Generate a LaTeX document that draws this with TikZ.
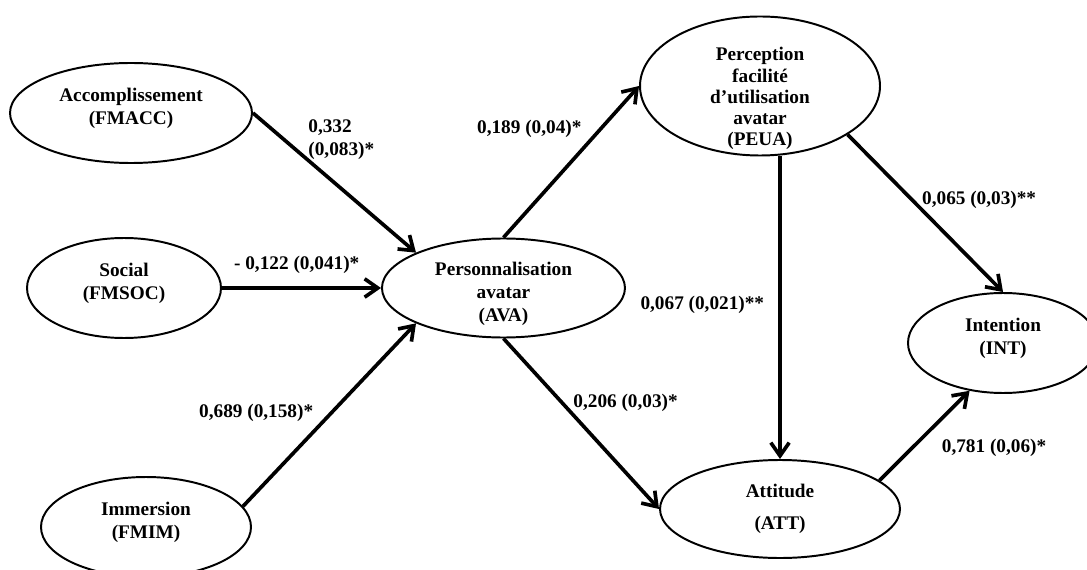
\documentclass[tikz,border=0pt]{standalone}
\usepackage{fontspec}
\setmainfont{Liberation Serif}
\usetikzlibrary{arrows.meta,positioning,shapes.geometric}

\begin{document}
\begin{tikzpicture}[
  latent/.style={draw,ellipse,line width=1.4pt,inner sep=0pt},
  lbl/.style={align=center,font=\fontsize{13.7}{16.3}\selectfont\bfseries},
  coef/.style={font=\fontsize{13.7}{16.3}\selectfont\bfseries,inner sep=3pt},
  arr/.style={-{Straight Barb[length=3.3mm,width=4.6mm]},line width=2.6pt}
]
\useasboundingbox (0,0) rectangle (27.175,14.225);
\node[latent,minimum width=6.05cm,minimum height=2.5cm,
  label={[lbl,name=FMACCtxt,yshift=1.25mm]center:Accomplissement\\(FMACC)}] (FMACC) at (3.275,11.4) {};
\node[latent,minimum width=4.85cm,minimum height=2.5cm,
  label={[lbl,name=FMSOCtxt,yshift=1.25mm]center:Social\\(FMSOC)}] (FMSOC) at (3.1,7.025) {};
\node[latent,minimum width=5.25cm,minimum height=2.5cm,
  label={[lbl,name=FMIMtxt,yshift=1.1mm]center:Immersion\\(FMIM)}] (FMIM) at (3.65,1.05) {};
\node[latent,minimum width=6.075cm,minimum height=2.475cm,right=3.975cm of FMSOC,
  label={[lbl,name=AVAtxt,yshift=-1.4mm]center:Personnalisation\\avatar\\(AVA)}] (AVA) {};
\node[latent,minimum width=6cm,minimum height=3.475cm,
  label={[lbl,name=PEUAtxt,yshift=-0.32cm,font=\fontsize{13.7}{15.1}\selectfont\bfseries]center:Perception\\facilité\\d’utilisation\\avatar\\(PEUA)}] (PEUA) at (19.0,12.075) {};
\node[latent,minimum width=4.75cm,minimum height=2.5cm,
  label={[lbl,name=INTtxt,yshift=1.25mm]center:Intention\\(INT)}] (INT) at (25.075,5.65) {};
\node[latent,minimum width=6cm,minimum height=2.45cm,
  label={[lbl,name=ATTtxt]center:Attitude\\[6pt](ATT)}] (ATT) at (19.5,1.5) {};
\draw[arr] (FMACC.east) -- node[coef,pos=0.19,right=0.46cm,align=left]{0,332\\(0,083)*} (AVA.158);
\draw[arr] (FMSOC.east) -- node[coef,pos=0.47,above=6pt]{- 0,122 (0,041)*} (AVA.west);
\draw[arr] (FMIM.12) -- node[coef,pos=0.51,left=0.3cm]{0,689 (0,158)*} (AVA.202);
\draw[arr] (AVA.north) -- node[coef,pos=0.62,above left]{0,189 (0,04)*} (PEUA.west);
\draw[arr] (AVA.south) -- node[coef,pos=0.38,right=0.12cm]{0,206 (0,03)*} (ATT.west);
\draw[arr] (PEUA.331) -- node[coef,pos=0.415,right=0.1cm]{0,065 (0,03)**} (INT.north);
\draw[arr] (ATT.north |- PEUA.south) -- node[coef,pos=0.49,left=7pt]{0,067 (0,021)**} (ATT.north);
\draw[arr] (ATT.16) -- node[coef,pos=0.36,right=0.6cm]{0,781 (0,06)*} (INT.235);
\end{tikzpicture}
\end{document}
